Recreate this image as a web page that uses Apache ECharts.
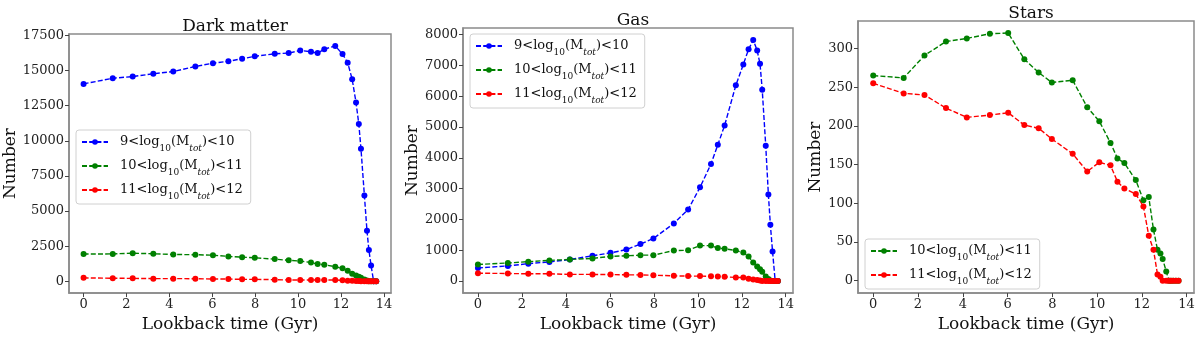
<!DOCTYPE html>
<html>
<head>
<meta charset="utf-8">
<script src="https://cdn.jsdelivr.net/npm/echarts@6/dist/echarts.min.js"></script>
<style>
  html, body { margin: 0; padding: 0; background: #fff; }
  #chart { width: 1200px; height: 338px; }
</style>
</head>
<body>
<div id="chart"></div>
<script>
"use strict";

// lookback time of each snapshot (Gyr), shared by all panels
const TIMES = [0, 1.36, 2.29, 3.25, 4.18, 5.21, 6.03, 6.75, 7.39, 7.98, 8.91, 9.56, 10.10, 10.60,
  10.91, 11.22, 11.73, 12.07, 12.31, 12.52, 12.70, 12.83, 12.93, 13.09, 13.21, 13.30, 13.40, 13.52, 13.64];

// ── Dark matter ──
const DM_LOW = [14050, 14450, 14570, 14770, 14930, 15290, 15520, 15660, 15840, 16010, 16190, 16240,
  16430, 16330, 16240, 16520, 16750, 16170, 15560, 14380, 12720, 11190, 9440, 6100, 3600, 2220, 1130, 0, 0];
const DM_MID = [1940, 1950, 2000, 1960, 1910, 1890, 1860, 1770, 1720, 1670, 1580, 1490, 1440, 1340,
  1230, 1180, 1040, 920, 750, 540, 420, 330, 260, 120, 50, 10, 0, 0, 0];
const DM_HIGH = [245, 215, 210, 190, 190, 185, 165, 160, 140, 140, 118, 95, 95, 95, 95, 95, 90, 70,
  47, 45, 24, 20, 10, 5, 0, 0, 0, 0, 0];

// ── Gas ──
const GAS_LOW = [425, 490, 565, 620, 700, 820, 915, 1020, 1200, 1380, 1870, 2320, 3040, 3800, 4420,
  5050, 6350, 7030, 7520, 7820, 7480, 7050, 6210, 4390, 2810, 1830, 960, 0, 0];
const GAS_MID = [540, 585, 630, 670, 700, 735, 800, 820, 840, 840, 990, 1000, 1150, 1150, 1070, 1050,
  990, 925, 800, 600, 470, 380, 300, 150, 65, 15, 0, 0, 0];
const GAS_HIGH = [255, 245, 235, 235, 215, 215, 210, 202, 200, 190, 170, 160, 160, 155, 150, 138, 117,
  117, 75, 53, 32, 15, 5, 0, 0, 0, 0, 0, 0];

// ── Stars ──
const STARS_MID = [265, 262, 291, 309, 313, 319, 320, 286, 269, 256, 259, 224, 206, 178, 158, 152,
  130, 104, 108, 66, 40, 35, 28, 12, 0, 0, 0, 0, 0];
const STARS_HIGH = [255, 242, 240, 223, 211, 214, 217, 201, 197, 183, 164, 141, 153, 149, 128, 119,
  112, 96, 58, 40, 8, 5, 0, 0, 0, 0, 0, 0, 0];

const BIN_NAMES = ["9<log10(Mtot)<10", "10<log10(Mtot)<11", "11<log10(Mtot)<12"];
const BIN_COLORS = ["#0000ff", "#008000", "#ff0000"];

const X_TICKS = [0, 2, 4, 6, 8, 10, 12, 14];
const DM_TICKS = [0, 2500, 5000, 7500, 10000, 12500, 15000, 17500];
const GAS_TICKS = [0, 1000, 2000, 3000, 4000, 5000, 6000, 7000, 8000];
const STARS_TICKS = [0, 50, 100, 150, 200, 250, 300];

const FONT = "DejaVu Serif";
const FRAME = "#8a8a8a";

// panel geometry (px) and y ranges
const PANELS = [
  { title: "Dark matter", left: 69, top: 34, width: 322, height: 263, ymin: -840, ymax: 17600,
    ticks: DM_TICKS, nameGap: 47, series: [DM_LOW, DM_MID, DM_HIGH], bins: [0, 1, 2],
    legend: { left: 76, top: 130 } },
  { title: "Gas", left: 463, top: 28, width: 330, height: 269, ymin: -391, ymax: 8211,
    ticks: GAS_TICKS, nameGap: 40, series: [GAS_LOW, GAS_MID, GAS_HIGH], bins: [0, 1, 2],
    legend: { left: 470, top: 34 } },
  { title: "Stars", left: 858, top: 21, width: 336, height: 275, ymin: -16, ymax: 335.5,
    ticks: STARS_TICKS, nameGap: 34, series: [STARS_MID, STARS_HIGH], bins: [1, 2],
    legend: { left: 865, top: 239 } },
];

function pts(vals) {
  return vals.map((v, i) => [TIMES[i], v]);
}

function legendLabel(name) {
  return name.replace("log10", "log{sub|10}").replace("Mtot", "M{subi|tot}");
}

const option = {
  animation: false,
  backgroundColor: "#fff",
  textStyle: { fontFamily: FONT },
  title: [], grid: [], xAxis: [], yAxis: [], legend: [], series: [],
};

PANELS.forEach((p, k) => {
  option.title.push({
    text: p.title, left: p.left + p.width / 2, textAlign: "center", top: p.top - 21,
    textStyle: { fontFamily: FONT, fontSize: 17, fontWeight: "normal", color: "#111" },
  });
  option.grid.push({
    left: p.left, top: p.top, width: p.width, height: p.height,
    show: true, borderColor: FRAME, borderWidth: 1.5, backgroundColor: "#fff",
  });
  option.xAxis.push({
    type: "value", gridIndex: k, min: -0.68, max: 14.33,
    name: "Lookback time (Gyr)", nameLocation: "middle", nameGap: 21,
    nameTextStyle: { fontFamily: FONT, fontSize: 17, color: "#111" },
    axisLine: { show: true, onZero: false, lineStyle: { color: FRAME, width: 1.5 } },
    axisTick: { show: true, length: 4, customValues: X_TICKS, lineStyle: { color: "#444" } },
    axisLabel: { customValues: X_TICKS, formatter: v => String(v),
      fontFamily: FONT, fontSize: 13, color: "#222", margin: 5 },
    splitLine: { show: false },
  });
  option.yAxis.push({
    type: "value", gridIndex: k, min: p.ymin, max: p.ymax,
    name: "Number", nameLocation: "middle", nameGap: p.nameGap, nameRotate: 90,
    nameTextStyle: { fontFamily: FONT, fontSize: 17, color: "#111" },
    axisLine: { show: true, onZero: false, lineStyle: { color: FRAME, width: 1.5 } },
    axisTick: { show: true, length: 4, customValues: p.ticks, lineStyle: { color: "#444" } },
    axisLabel: { customValues: p.ticks, formatter: v => String(v),
      fontFamily: FONT, fontSize: 13, color: "#222", margin: 5 },
    splitLine: { show: false },
  });
  option.legend.push({
    orient: "vertical", left: p.legend.left, top: p.legend.top,
    data: p.bins.map(b => BIN_NAMES[b]),
    itemWidth: 26, itemHeight: 7, itemGap: 5,
    padding: [4, 8, 3, 5],
    borderColor: "#d0d0d0", borderWidth: 1, borderRadius: 3,
    backgroundColor: "rgba(255,255,255,0.85)",
    formatter: legendLabel,
    textStyle: {
      fontFamily: FONT, fontSize: 13, color: "#111", padding: [0, 0, 0, 7], lineHeight: 16,
      rich: {
        sub: { fontFamily: FONT, fontSize: 9, color: "#111", verticalAlign: "bottom", lineHeight: 16, padding: [0, 0, -3, 0] },
        subi: { fontFamily: FONT, fontSize: 9, fontStyle: "italic", color: "#111", verticalAlign: "bottom", lineHeight: 16, padding: [0, 0, -3, 0] },
      },
    },
  });
  p.bins.forEach((b, j) => {
    option.series.push({
      name: BIN_NAMES[b], type: "line", xAxisIndex: k, yAxisIndex: k,
      data: pts(p.series[j]),
      symbol: "circle", symbolSize: 6,
      itemStyle: { color: BIN_COLORS[b] },
      lineStyle: { color: BIN_COLORS[b], width: 1.4, type: [5, 2.2] },
    });
  });
});

echarts.init(document.getElementById("chart")).setOption(option);
</script>
</body>
</html>
